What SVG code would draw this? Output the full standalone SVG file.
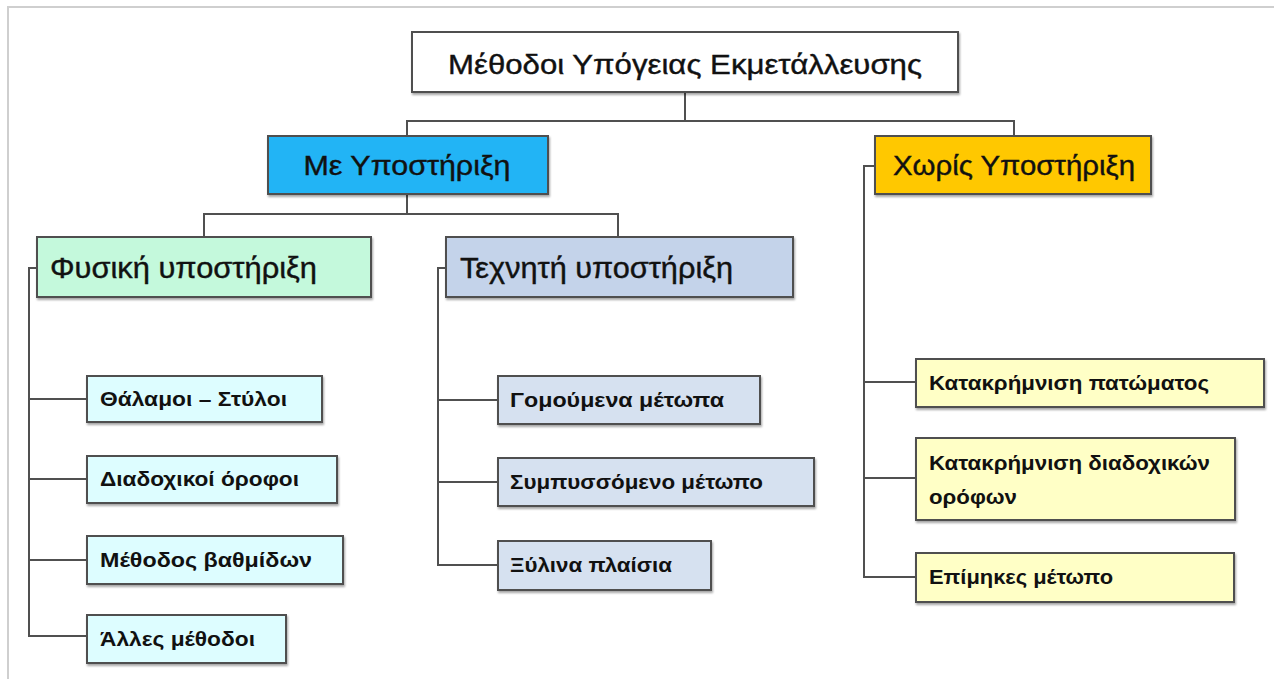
<svg xmlns="http://www.w3.org/2000/svg" width="1274" height="679" viewBox="0 0 1274 679">
<style>
.box{stroke:#505050;stroke-width:2}
.t{font-family:"Liberation Sans","Noto Sans",sans-serif;fill:#111;stroke:#111;stroke-width:0.4}
.big{font-size:28px}
.mid{font-size:29px}
.sm{font-size:20px;font-weight:bold;stroke-width:0}
.c{fill:none;stroke:#505050;stroke-width:2}
</style>
<defs>
<filter id="sh" x="-5%" y="-5%" width="110%" height="120%">
<feDropShadow dx="1" dy="2" stdDeviation="1" flood-color="#000" flood-opacity="0.35"/>
</filter>
</defs>
<rect width="1274" height="679" fill="#fff"/>
<path d="M8,679 V7 H1274" fill="none" stroke="#cfcfcf" stroke-width="2"/>
<g id="connectors">
<path class="c" d="M685,92 V121 M407,136 V121 H1014 V136"/>
<path class="c" d="M407,194 V214 M204,237 V214 H618 V237"/>
<path class="c" d="M37,268 H29 V636 H87 M29,399 H87 M29,479 H87 M29,560 H87"/>
<path class="c" d="M446,268 H438 V565 H498 M438,400 H498 M438,482 H498"/>
<path class="c" d="M875,166 H864 V577 H916 M864,382 H916 M864,478 H916"/>
</g>
<g id="root"><rect class="box" x="412" y="32" width="546" height="60" fill="#fff" filter="url(#sh)"/>
<text class="t big" x="685" y="74" text-anchor="middle" textLength="474" lengthAdjust="spacingAndGlyphs">Μέθοδοι Υπόγειας Εκμετάλλευσης</text></g>
<g id="me"><rect class="box" x="268" y="136" width="280" height="58" fill="#22B4F5" filter="url(#sh)"/>
<text class="t big" x="407" y="175" text-anchor="middle" textLength="207" lengthAdjust="spacingAndGlyphs">Με Υποστήριξη</text></g>
<g id="xoris"><rect class="box" x="875" y="136" width="276" height="58" fill="#FFC800" filter="url(#sh)"/>
<text class="t big" x="1014" y="175" text-anchor="middle" textLength="242" lengthAdjust="spacingAndGlyphs">Χωρίς Υποστήριξη</text></g>
<g id="fysiki"><rect class="box" x="37" y="237" width="334" height="60" fill="#C4F9DC" filter="url(#sh)"/>
<text class="t mid" x="50" y="278" textLength="267" lengthAdjust="spacingAndGlyphs">Φυσική υποστήριξη</text></g>
<g id="techniti"><rect class="box" x="446" y="237" width="347" height="60" fill="#C4D3EA" filter="url(#sh)"/>
<text class="t mid" x="460" y="278" textLength="273" lengthAdjust="spacingAndGlyphs">Τεχνητή υποστήριξη</text></g>
<g id="thalamoi"><rect class="box" x="87" y="376" width="235" height="46" fill="#DDFDFF" filter="url(#sh)"/>
<text class="t sm" x="100" y="406" textLength="187" lengthAdjust="spacingAndGlyphs">Θάλαμοι – Στύλοι</text></g>
<g id="diadoxikoi"><rect class="box" x="87" y="456" width="250" height="47" fill="#DDFDFF" filter="url(#sh)"/>
<text class="t sm" x="100" y="486" textLength="199" lengthAdjust="spacingAndGlyphs">Διαδοχικοί όροφοι</text></g>
<g id="vathmides"><rect class="box" x="87" y="536" width="256" height="48" fill="#DDFDFF" filter="url(#sh)"/>
<text class="t sm" x="100" y="567" textLength="212" lengthAdjust="spacingAndGlyphs">Μέθοδος βαθμίδων</text></g>
<g id="alles"><rect class="box" x="87" y="615" width="199" height="48" fill="#DDFDFF" filter="url(#sh)"/>
<text class="t sm" x="100" y="646" textLength="155" lengthAdjust="spacingAndGlyphs">Άλλες μέθοδοι</text></g>
<g id="gomoumena"><rect class="box" x="498" y="376" width="262" height="48" fill="#D6E1F0" filter="url(#sh)"/>
<text class="t sm" x="510" y="407" textLength="214" lengthAdjust="spacingAndGlyphs">Γομούμενα μέτωπα</text></g>
<g id="sympyssomeno"><rect class="box" x="498" y="458" width="316" height="48" fill="#D6E1F0" filter="url(#sh)"/>
<text class="t sm" x="510" y="489" textLength="253" lengthAdjust="spacingAndGlyphs">Συμπυσσόμενο μέτωπο</text></g>
<g id="xylina"><rect class="box" x="498" y="541" width="213" height="49" fill="#D6E1F0" filter="url(#sh)"/>
<text class="t sm" x="510" y="572" textLength="162" lengthAdjust="spacingAndGlyphs">Ξύλινα πλαίσια</text></g>
<g id="patomatos"><rect class="box" x="916" y="359" width="348" height="48" fill="#FFFFC6" filter="url(#sh)"/>
<text class="t sm" x="929" y="390" textLength="280" lengthAdjust="spacingAndGlyphs">Κατακρήμνιση πατώματος</text></g>
<g id="diadoxikon"><rect class="box" x="916" y="438" width="319" height="82" fill="#FFFFC6" filter="url(#sh)"/>
<text class="t sm" x="929" y="470" textLength="281" lengthAdjust="spacingAndGlyphs">Κατακρήμνιση διαδοχικών</text>
<text class="t sm" x="929" y="504" textLength="88" lengthAdjust="spacingAndGlyphs">ορόφων</text></g>
<g id="epimikes"><rect class="box" x="916" y="553" width="318" height="49" fill="#FFFFC6" filter="url(#sh)"/>
<text class="t sm" x="929" y="584" textLength="184" lengthAdjust="spacingAndGlyphs">Επίμηκες μέτωπο</text></g>
</svg>
